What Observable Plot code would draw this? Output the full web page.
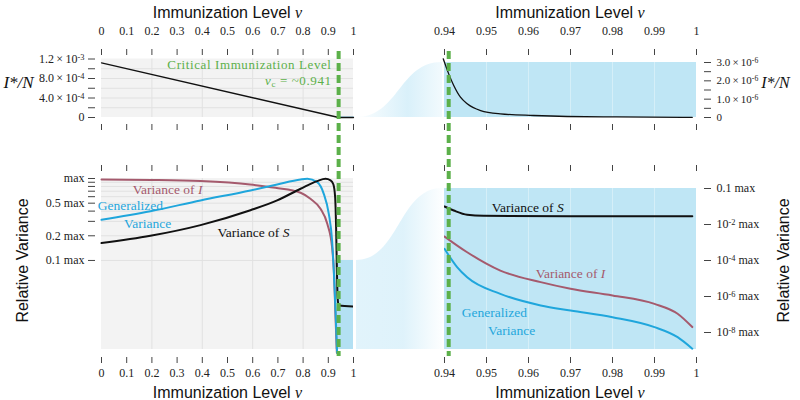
<!DOCTYPE html>
<html><head><meta charset="utf-8">
<script src="https://cdn.jsdelivr.net/npm/d3@7"></script>
<script src="https://cdn.jsdelivr.net/npm/@observablehq/plot@0.6"></script>
<style>
html,body{margin:0;padding:0;background:#fff;}
#chart{position:relative;width:800px;height:400px;background:#fff;}
#chart svg{position:absolute;left:0;top:0;}
</style></head><body><div id="chart"></div>
<script>
// ---------- ticks & labels ----------
const xTicksLeft = [0, 0.1, 0.2, 0.3, 0.4, 0.5, 0.6, 0.7, 0.8, 0.9, 1];
const xGridLeft = [0.2, 0.4, 0.6, 0.8];
const xTicksRight = [0.94, 0.95, 0.96, 0.97, 0.98, 0.99, 1];
const nuCritical = 0.941;

const yTicksTL = [0, 2e-4, 4e-4, 6e-4, 8e-4, 1e-3, 1.2e-3];
const yLabelsTL = ["0", "", "4.0 × 10^{-4}", "", "8.0 × 10^{-4}", "", "1.2 × 10^{-3}"];
const yTicksTR = [0, 0.5e-6, 1e-6, 1.5e-6, 2e-6, 2.5e-6, 3e-6];
const yLabelsTR = ["0", "", "1.0 × 10^{-6}", "", "2.0 × 10^{-6}", "", "3.0 × 10^{-6}"];
const yTicksBL = [1, 0.9, 0.8, 0.7, 0.6, 0.5, 0.4, 0.3, 0.2, 0.1];
const yLabelsBL = ["max", "", "", "", "", "0.5 max", "", "", "0.2 max", "0.1 max"];
const yTicksBR = [0.1, 1e-2, 1e-4, 1e-6, 1e-8];
const yLabelsBR = ["0.1 max", "10^{-2} max", "10^{-4} max", "10^{-6} max", "10^{-8} max"];

// ---------- scale extents ----------
const domTL = [0, 1.2e-3];
const domTR = [0, 3e-6];
const domBL = [0.0082, 1];
const domBR = [1.14e-9, 1e-8, 1e-2, 1e-1];   // piecewise log axis as drawn
const zoomNu = [0.94, 1];
const zoomLeftBL = [0.93, 1];

// ---------- series: top-left, I*/N ----------
const nuTL = [0, 0.941, 1];
const iTL = [1.12e-3, 0, 0];

// ---------- series: top-right, I*/N ----------
const nuTR = [0.9397, 0.941, 0.9422, 0.9438, 0.9454, 0.9486, 0.9533, 0.9612, 0.9692, 0.981, 0.999];
const iTR = [3.2e-6, 2.38e-6, 1.75e-6, 1.11e-6, 0.75e-6, 0.38e-6, 0.2e-6, 0.11e-6, 0.055e-6, 0.03e-6, 0.01e-6];

// ---------- series: bottom-left, relative variance ----------
const nuBL_S = [0, 0.194, 0.393, 0.591, 0.697, 0.79, 0.856, 0.889, 0.909, 0.92, 0.927, 0.931, 0.934, 0.937, 0.941, 1];
const varBL_S = [0.163, 0.2, 0.27, 0.41, 0.54, 0.75, 0.93, 0.99, 0.95, 0.85, 0.6, 0.25, 0.08, 0.035, 0.0285, 0.0275];
const nuBL_G = [0, 0.194, 0.393, 0.591, 0.697, 0.79, 0.817, 0.856, 0.882, 0.902, 0.915, 0.926, 0.935];
const varBL_G = [0.313, 0.399, 0.54, 0.714, 0.845, 0.973, 0.991, 0.902, 0.65, 0.371, 0.175, 0.039, 0.0075];
const nuBL_I = [0, 0.2, 0.393, 0.59, 0.69, 0.79, 0.829, 0.869, 0.896, 0.915, 0.922, 0.929, 0.934];
const varBL_I = [0.97, 0.96, 0.93, 0.845, 0.77, 0.67, 0.565, 0.427, 0.28, 0.145, 0.076, 0.019, 0.0075];

// ---------- series: bottom-right, relative variance ----------
const nuBR_S = [0.94, 0.9422, 0.9454, 0.9493, 0.97, 0.999];
const varBR_S = [0.0316, 0.0245, 0.0186, 0.0174, 0.0170, 0.0170];
const nuBR_I = [0.94, 0.9454, 0.9533, 0.9629, 0.970, 0.980, 0.990, 0.9955, 0.999];
const varBR_I = [2.15e-3, 2.88e-4, 2.75e-5, 6.3e-6, 2.7e-6, 1.15e-6, 3.9e-7, 1.1e-7, 2.0e-8];
const nuBR_G = [0.94, 0.943, 0.9454, 0.9533, 0.9629, 0.970, 0.980, 0.990, 0.9955, 0.999];
const varBR_G = [4.5e-4, 4.3e-5, 1.17e-5, 1.4e-6, 3.2e-7, 1.66e-7, 7.1e-8, 2.0e-8, 5.5e-9, 1.26e-9];

// ---------- annotations (data units) ----------
const labelsBL = [
  {nu: 0.262, v: 0.734, text: "Variance of {I}", c: "rose"},
  {nu: 0.115, v: 0.469, text: "Generalized", c: "blue"},
  {nu: 0.183, v: 0.283, text: "Variance", c: "blue"},
  {nu: 0.603, v: 0.219, text: "Variance of {S}", c: "black"}
];
const labelsBR = [
  {nu: 0.9598, v: 0.0297, text: "Variance of {S}", c: "black"},
  {nu: 0.9700, v: 1.9e-5, text: "Variance of {I}", c: "rose"},
  {nu: 0.9519, v: 1.3e-7, text: "Generalized", c: "blue"},
  {nu: 0.9560, v: 1.3e-8, text: "Variance", c: "blue"}
];
const criticalText = [
  {nu: 0.913, v: 1.087e-3, text: "Critical Immunization Level"},
  {nu: 0.913, v: 7.59e-4, text: "{ν}_{c} = ~0.941"}
];

const COLORS = {rose: "#a55a6d", blue: "#1fa6dc", black: "#111111"};
const GREEN = "#5cb04a";
const ZOOMFILL = "#bfe6f5";
const PANELBG = "#f3f3f3";
const GRID = "#e1e1e1";

const pts = (xs, ys) => xs.map((x, i) => ({x, y: ys[i]}));
const lookup = (ticks, labels) => d => labels[ticks.indexOf(d)] ?? "";
const baseStyle = {background: "transparent", fontFamily: "Liberation Serif", fontSize: "12px", color: "#222", overflow: "visible"};
const titleText = "Immunization Level {ν}";

// ---------- top-left ----------
const TL = Plot.plot({
  width: 800, height: 400, marginLeft: 95, marginRight: 447, marginTop: 54, marginBottom: 276,
  style: baseStyle,
  x: {domain: [0, 1], range: [101, 353], axis: null},
  y: {domain: domTL, range: [117, 58.5], axis: null},
  marks: [
    Plot.rect([{}], {x1: 0, x2: 1, y1: domTL[0], y2: domTL[1], fill: PANELBG}),
    Plot.ruleY(yTicksTL.slice(1, -1), {x1: 0, x2: 1, stroke: GRID}),
    Plot.ruleX(xGridLeft, {y1: domTL[0], y2: domTL[1], stroke: GRID}),
    Plot.rect([{}], {x1: zoomNu[0], x2: zoomNu[1], y1: domTR[0], y2: domTR[1], fill: ZOOMFILL, stroke: ZOOMFILL, strokeWidth: 1.5}),
    Plot.line(pts(nuTL, iTL), {x: "x", y: "y", stroke: COLORS.black, strokeWidth: 1.3}),
    Plot.text(criticalText, {x: "nu", y: "v", text: "text", textAnchor: "end", fill: GREEN, fontSize: 13}),
    Plot.axisX({anchor: "top", ticks: xTicksLeft, tickSize: 6, tickPadding: 14, tickFormat: d => String(d), label: null, stroke: "#444"}),
    Plot.axisX({anchor: "bottom", ticks: xTicksLeft, tickSize: 6, tickFormat: () => "", label: null, stroke: "#444"}),
    Plot.axisY({anchor: "left", ticks: yTicksTL, tickSize: 7, tickPadding: 4, tickFormat: lookup(yTicksTL, yLabelsTL), label: null, stroke: "#444"}),
    Plot.text([titleText], {frameAnchor: "top", lineAnchor: "middle", textAnchor: "middle", dx: 3, dy: -42, fontFamily: "Liberation Sans", fontSize: 16, fill: "#111"}),
    Plot.text(["{I*/N}"], {frameAnchor: "left", lineAnchor: "middle", textAnchor: "middle", dx: -77, dy: -7, fontSize: 17, fill: "#111"})
  ]
});

// ---------- top-right ----------
const TR = Plot.plot({
  width: 800, height: 400, marginLeft: 444, marginRight: 97, marginTop: 54, marginBottom: 276,
  style: baseStyle,
  x: {domain: zoomNu, range: [444, 696], axis: null},
  y: {domain: domTR, range: [117, 62], axis: null},
  marks: [
    Plot.rect([{}], {x1: zoomNu[0], x2: zoomNu[1], y1: domTR[0], y2: domTR[1], fill: ZOOMFILL}),
    Plot.ruleX(xTicksRight.slice(1, -1), {y1: domTR[0], y2: domTR[1], stroke: "#fff", strokeOpacity: 0.35}),
    Plot.line(pts(nuTR, iTR), {x: "x", y: "y", stroke: COLORS.black, strokeWidth: 1.3, curve: "monotone-x"}),
    Plot.axisX({anchor: "top", ticks: xTicksRight, tickSize: 6, tickPadding: 14, tickFormat: d => String(d), label: null, stroke: "#444"}),
    Plot.axisX({anchor: "bottom", ticks: xTicksRight, tickSize: 6, tickFormat: () => "", label: null, stroke: "#444"}),
    Plot.axisY({anchor: "right", ticks: yTicksTR, tickSize: 7, tickPadding: 6, tickFormat: lookup(yTicksTR, yLabelsTR), label: null, stroke: "#444", fontSize: 11}),
    Plot.text([titleText], {frameAnchor: "top", lineAnchor: "middle", textAnchor: "middle", dx: -4, dy: -42, fontFamily: "Liberation Sans", fontSize: 16, fill: "#111"}),
    Plot.text(["{I*/N}"], {frameAnchor: "right", lineAnchor: "middle", textAnchor: "middle", dx: 72, dy: -7, fontSize: 16, fill: "#111"})
  ]
});

// ---------- bottom-left ----------
const BL = Plot.plot({
  width: 800, height: 400, marginLeft: 95, marginRight: 447, marginTop: 170, marginBottom: 43,
  style: baseStyle,
  x: {domain: [0, 1], range: [101, 353], axis: null},
  y: {type: "log", domain: domBL, range: [349, 178], axis: null},
  marks: [
    Plot.rect([{}], {x1: 0, x2: 1, y1: domBL[0], y2: domBL[1], fill: PANELBG}),
    Plot.ruleY(yTicksBL.slice(1), {x1: 0, x2: 1, stroke: GRID}),
    Plot.ruleX(xGridLeft, {y1: domBL[0], y2: domBL[1], stroke: GRID}),
    Plot.rect([{}], {x1: zoomLeftBL[0], x2: zoomLeftBL[1], y1: domBL[0], y2: 0.1, fill: "#b3e0f3"}),
    Plot.line(pts(nuBL_I, varBL_I), {x: "x", y: "y", stroke: COLORS.rose, strokeWidth: 2, curve: "monotone-x", clip: true}),
    Plot.line(pts(nuBL_G, varBL_G), {x: "x", y: "y", stroke: COLORS.blue, strokeWidth: 2, curve: "monotone-x", clip: true}),
    Plot.line(pts(nuBL_S, varBL_S), {x: "x", y: "y", stroke: COLORS.black, strokeWidth: 2, curve: "monotone-x", clip: true}),
    Plot.text(labelsBL, {x: "nu", y: "v", text: "text", fill: d => COLORS[d.c], fontSize: 13.5}),
    Plot.ruleX([nuCritical], {stroke: GREEN, strokeWidth: 4, strokeDasharray: "8,4", insetTop: -119, insetBottom: 1}),
    Plot.axisX({anchor: "top", ticks: xTicksLeft, tickSize: 6, tickFormat: () => "", label: null, stroke: "#444"}),
    Plot.axisX({anchor: "bottom", ticks: xTicksLeft, tickSize: 6, tickPadding: 5, tickFormat: d => String(d), label: null, stroke: "#444"}),
    Plot.axisY({anchor: "left", ticks: yTicksBL, tickSize: 7, tickPadding: 4, tickFormat: lookup(yTicksBL, yLabelsBL), label: null, stroke: "#444"}),
    Plot.text([titleText], {frameAnchor: "bottom", lineAnchor: "middle", textAnchor: "middle", dx: 3, dy: 35, fontFamily: "Liberation Sans", fontSize: 16, fill: "#111"}),
    Plot.text(["Relative Variance"], {frameAnchor: "left", lineAnchor: "middle", textAnchor: "middle", rotate: -90, dx: -73, dy: -3.5, fontFamily: "Liberation Sans", fontSize: 16, fill: "#111"})
  ]
});

// ---------- bottom-right ----------
const BR = Plot.plot({
  width: 800, height: 400, marginLeft: 444, marginRight: 97, marginTop: 170, marginBottom: 43,
  style: baseStyle,
  x: {domain: zoomNu, range: [444, 696], axis: null},
  y: {type: "log", domain: domBR, range: [349, 332, 224, 188], axis: null},
  marks: [
    Plot.rect([{}], {x1: zoomNu[0], x2: zoomNu[1], y1: domBR[0], y2: domBR[3], fill: ZOOMFILL}),
    Plot.ruleX(xTicksRight.slice(1, -1), {y1: domBR[0], y2: domBR[3], stroke: "#fff", strokeOpacity: 0.35}),
    Plot.line(pts(nuBR_I, varBR_I), {x: "x", y: "y", stroke: COLORS.rose, strokeWidth: 2, curve: "monotone-x", clip: true}),
    Plot.line(pts(nuBR_G, varBR_G), {x: "x", y: "y", stroke: COLORS.blue, strokeWidth: 2, curve: "monotone-x", clip: true}),
    Plot.line(pts(nuBR_S, varBR_S), {x: "x", y: "y", stroke: COLORS.black, strokeWidth: 2, curve: "monotone-x", clip: true}),
    Plot.text(labelsBR, {x: "nu", y: "v", text: "text", fill: d => COLORS[d.c], fontSize: 13.5}),
    Plot.ruleX([nuCritical], {stroke: GREEN, strokeWidth: 4, strokeDasharray: "8,4", insetTop: -119, insetBottom: 1}),
    Plot.axisX({anchor: "top", ticks: xTicksRight, tickSize: 6, tickFormat: () => "", label: null, stroke: "#444"}),
    Plot.axisX({anchor: "bottom", ticks: xTicksRight, tickSize: 6, tickPadding: 5, tickFormat: d => String(d), label: null, stroke: "#444"}),
    Plot.axisY({anchor: "right", ticks: yTicksBR, tickSize: 7, tickPadding: 6, tickFormat: lookup(yTicksBR, yLabelsBR), label: null, stroke: "#444"}),
    Plot.text([titleText], {frameAnchor: "bottom", lineAnchor: "middle", textAnchor: "middle", dx: -4, dy: 35, fontFamily: "Liberation Sans", fontSize: 16, fill: "#111"}),
    Plot.text(["Relative Variance"], {frameAnchor: "right", lineAnchor: "middle", textAnchor: "middle", rotate: -90, dx: 80, dy: -3.5, fontFamily: "Liberation Sans", fontSize: 16, fill: "#111"})
  ]
});

// ---------- zoom connectors (endpoints taken from the panel scales) ----------
const xl = TL.scale("x").apply(1) + 3, xr = TR.scale("x").apply(zoomNu[0]) - 2;
const connectors = [
  {x: xl, y1: TL.scale("y").apply(0), y2: TL.scale("y").apply(0), k: "top"},
  {x: xr, y1: TR.scale("y").apply(0), y2: TR.scale("y").apply(domTR[1]), k: "top"},
  {x: xl, y1: BL.scale("y").apply(domBL[0]), y2: BL.scale("y").apply(0.1), k: "bot"},
  {x: xr, y1: BR.scale("y").apply(domBR[0]), y2: BR.scale("y").apply(0.1), k: "bot"}
];
const CONN = Plot.plot({
  width: 800, height: 400, margin: 0, style: baseStyle,
  x: {type: "identity", axis: null}, y: {type: "identity", axis: null},
  marks: [
    Plot.areaY(connectors.filter(d => d.k === "top"), {x: "x", y1: "y1", y2: "y2", curve: "bump-x", fill: "url(#gradTop)"}),
    Plot.areaY(connectors.filter(d => d.k === "bot"), {x: "x", y1: "y1", y2: "y2", curve: "bump-x", fill: "url(#gradBot)"})
  ]
});
d3.select(CONN).insert("defs", ":first-child").html(`
  <linearGradient id="gradTop" x1="0" x2="1" y1="0" y2="0">
    <stop offset="0" stop-color="#c9eaf8" stop-opacity="0.05"/>
    <stop offset="0.6" stop-color="#c9eaf8" stop-opacity="0.7"/>
    <stop offset="1" stop-color="#c9eaf8" stop-opacity="0.25"/>
  </linearGradient>
  <linearGradient id="gradBot" x1="0" x2="1" y1="0" y2="0">
    <stop offset="0" stop-color="#c9eaf8" stop-opacity="0.55"/>
    <stop offset="0.55" stop-color="#c9eaf8" stop-opacity="0.6"/>
    <stop offset="1" stop-color="#c9eaf8" stop-opacity="0.05"/>
  </linearGradient>`);

const chart = document.getElementById("chart");
[CONN, TL, TR, BL, BR].forEach(s => chart.appendChild(s));

// ---------- rich text: {italic}, ^{sup}, _{sub} ----------
function rich(el) {
  const s = el.textContent;
  if (!/[\^_{]/.test(s)) return;
  const re = /\^\{([^}]*)\}|_\{([^}]*)\}|\{([^}]*)\}|([^\^_{]+)/g;
  el.textContent = "";
  let m;
  while ((m = re.exec(s))) {
    const t = document.createElementNS("http://www.w3.org/2000/svg", "tspan");
    if (m[1] != null) { t.textContent = m[1]; t.setAttribute("baseline-shift", "35%"); t.setAttribute("font-size", "0.7em"); }
    else if (m[2] != null) { t.textContent = m[2]; t.setAttribute("baseline-shift", "-20%"); t.setAttribute("font-size", "0.7em"); }
    else if (m[3] != null) { t.textContent = m[3]; t.setAttribute("font-style", "italic"); t.setAttribute("font-family", "Liberation Serif"); }
    else t.textContent = m[4].replace(/ × /g, "\u2009×\u2009");
    el.appendChild(t);
  }
}
d3.select(chart).selectAll("text").each(function () {
  if (this.textContent === "Critical Immunization Level" || this.textContent.startsWith("{ν}")) this.setAttribute("letter-spacing", "0.6");
  rich(this);
});
</script></body></html>
